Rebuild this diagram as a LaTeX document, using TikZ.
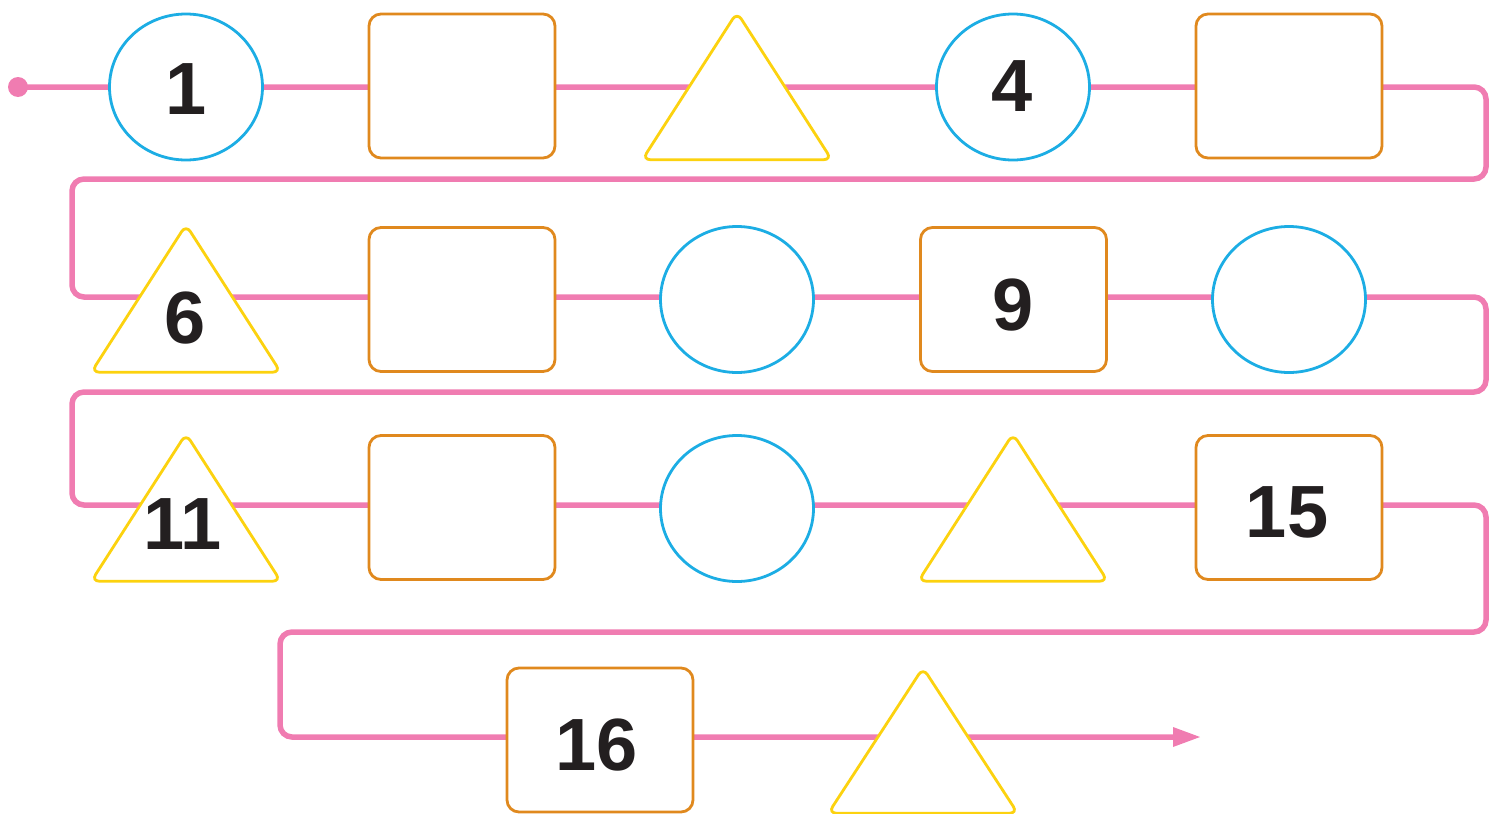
\documentclass[tikz,border=0pt]{standalone}
\usepackage{fontspec}
\setmainfont{Liberation Sans}
\usetikzlibrary{shapes.geometric,arrows.meta,backgrounds}
\definecolor{pinkline}{HTML}{F07CB1}
\definecolor{circblue}{HTML}{1CADE4}
\definecolor{rectorange}{HTML}{E0891E}
\definecolor{triyellow}{HTML}{FCD20F}
\definecolor{numink}{HTML}{231F20}
\tikzset{
  circ/.style={ellipse, draw=circblue, line width=2.8pt, fill=white, minimum width=153pt, minimum height=146pt, inner sep=0pt},
  box/.style={rectangle, draw=rectorange, line width=2.8pt, fill=white, rounded corners=12pt, minimum width=186pt, minimum height=144pt, inner sep=0pt},
  trizone/.style={rectangle, draw=none, minimum width=189pt, minimum height=147pt, inner sep=0pt},
  tri/.style={draw=triyellow, line width=2.8pt, fill=white, rounded corners=8pt},
  num/.style={font=\fontsize{74pt}{74pt}\selectfont\bfseries, text=numink, inner sep=0pt},
  path line/.style={draw=pinkline, line width=5.5pt, rounded corners=12pt},
  startdot/.style={circle, fill=pinkline, minimum size=20pt, inner sep=0pt}
}
\begin{document}
\begin{tikzpicture}[x=1pt,y=-1pt]
\useasboundingbox (0,0) rectangle (1489,814);
% row 1
\node[startdot] (start) at (18,87) {};
\node[circ] (c1) at (186,87) {};
\node[box] (r2) at (462,86) {};
\node[trizone] (t3) at (737,86) {};
\node[circ] (c4) at (1013,87) {};
\node[box] (r5) at (1289,86) {};
% row 2
\node[trizone] (t6) at (186,298.5) {};
\node[box] (r7) at (462,299.5) {};
\node[circ] (c8) at (737,299.5) {};
\node[box] (r9) at (1013.5,299.5) {};
\node[circ] (c10) at (1289,299.5) {};
% row 3
\node[trizone] (t11) at (186,507.5) {};
\node[box] (r12) at (462,507.5) {};
\node[circ] (c13) at (737,508.5) {};
\node[trizone] (t14) at (1013,507.5) {};
\node[box] (r15) at (1289,507.5) {};
% row 4
\node[box] (r16) at (600,740) {};
\node[trizone,minimum height=145pt] (t17) at (923,740.5) {};
% triangles
\foreach \t in {t3,t6,t11,t14,t17}{
  \filldraw[tri] (\t.north) -- (\t.south east) -- (\t.south west) -- cycle;
}
% numbers
\node[num] (n1) at (186,89) {1};
\node[num] (n4) at (1012,86) {4};
\node[num] (n6) at (185,318) {6};
\node[num] (n9) at (1013,305) {9};
\node[num] (n11) at (183,524) {11};
\node[num] (n15) at (1287,512) {15};
\node[num] (n16) at (597,745) {16};
% turn points
\coordinate (a1) at (1486,87);
\coordinate (a2) at (1486,179);
\coordinate (a3) at (72,179);
\coordinate (a4) at (72,297);
\coordinate (a5) at (1486,297);
\coordinate (a6) at (1486,392);
\coordinate (a7) at (72,392);
\coordinate (a8) at (72,505);
\coordinate (a9) at (1486,505);
\coordinate (a10) at (1486,632);
\coordinate (a11) at (280,632);
\coordinate (a12) at (280,737);
\coordinate (finish) at (1200,737);
\begin{pgfonlayer}{background}
\draw[path line, shorten >=14pt] (start.center) -- (a1) -- (a2) -- (a3) -- (a4) -- (a5) -- (a6) -- (a7) -- (a8) -- (a9) -- (a10) -- (a11) -- (a12) -- (finish);
\fill[pinkline] (finish) -- ++(-27,-10) -- ++(0,20) -- cycle;
\end{pgfonlayer}
\end{tikzpicture}
\end{document}
